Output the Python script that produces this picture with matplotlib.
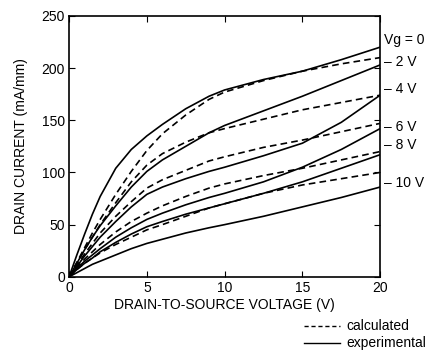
import matplotlib
matplotlib.use('Agg')
import matplotlib.pyplot as plt
import numpy as np

plt.rcParams['font.family'] = ['Liberation Sans', 'DejaVu Sans']

# drain-to-source voltage (V)
vds = [0, 0.5, 1, 1.5, 2, 3, 4, 5, 6, 7.5, 9, 10, 12.5, 15, 17.5, 20]

# experimental drain current (mA/mm), one list per gate voltage
exp_0 = [0, 21, 41, 60, 77, 104, 122, 135, 146, 161, 173, 179, 189, 197, 208, 220]
exp_m2 = [0, 13, 26, 38, 49, 68, 86, 101, 112, 125, 138, 145, 159, 173, 188, 203]
exp_m4 = [0, 10, 20, 29, 38, 53, 67, 79, 86, 94, 101, 105, 116, 128, 148, 174]
exp_m6 = [0, 8, 15, 21, 27, 38, 47, 55, 61, 69, 76, 80, 91, 105, 122, 142]
exp_m8 = [0, 7, 13, 18, 24, 33, 41, 48, 53, 60, 66, 70, 80, 91, 104, 117]
exp_m10 = [0, 4, 8, 12, 15, 21, 27, 32, 36, 42, 47, 50, 58, 67, 76, 86]

# calculated drain current (mA/mm)
calc_0 = [0, 14, 28, 42, 55, 79, 101, 121, 137, 155, 170, 177, 188, 197, 204, 210]
calc_m2 = [0, 13, 26, 38, 50, 71, 91, 107, 118, 129, 138, 142, 151, 160, 167, 174]
calc_m4 = [0, 11, 22, 32, 42, 58, 72, 85, 93, 102, 111, 115, 124, 131, 139, 147]
calc_m6 = [0, 9, 17, 24, 31, 43, 53, 61, 68, 77, 85, 89, 97, 104, 112, 120]
calc_m8 = [0, 7, 13, 18, 23, 31, 38, 45, 50, 58, 66, 70, 80, 88, 94, 100]

gate_labels = ['Vg = 0', '\u2013 2 V', '\u2013 4 V', '\u2013 6 V', '\u2013 8 V', '\u2013 10 V']
label_y = [227, 206, 180, 144, 126, 90]

fig = plt.figure(figsize=(4.4, 3.6), dpi=100)
ax = fig.add_axes([0.157, 0.231, 0.707, 0.725])

for c in [calc_0, calc_m2, calc_m4, calc_m6, calc_m8]:
    ax.plot(vds, c, color='black', lw=1.2, ls=(0, (4, 2.5)))
for e in [exp_0, exp_m2, exp_m4, exp_m6, exp_m8, exp_m10]:
    ax.plot(vds, e, color='black', lw=1.2)

ax.set_xlim(0, 20)
ax.set_ylim(0, 250)
ax.set_xticks([0, 5, 10, 15, 20])
ax.set_yticks([0, 50, 100, 150, 200, 250])
ax.tick_params(direction='in', top=True, right=True, labelsize=10, length=4, pad=3)
for s in ax.spines.values():
    s.set_linewidth(1.2)

ax.set_xlabel('DRAIN-TO-SOURCE VOLTAGE (V)', fontsize=10, labelpad=2)
ax.set_ylabel('DRAIN CURRENT (mA/mm)', fontsize=10, labelpad=10)

# gate voltage labels to the right of the plot
for t, y in zip(gate_labels, label_y):
    ax.text(20.25, y, t, fontsize=10, va='center', ha='left', clip_on=False)

# legend drawn below the plot on the right
fig.add_artist(plt.Line2D([304 / 440, 340 / 440], [1 - 326 / 360, 1 - 326 / 360],
                          color='black', lw=1, ls=(0, (3, 2))))
fig.add_artist(plt.Line2D([304 / 440, 340 / 440], [1 - 343 / 360, 1 - 343 / 360],
                          color='black', lw=1))
fig.text(346 / 440, 1 - 326 / 360, 'calculated', fontsize=10, va='center')
fig.text(346 / 440, 1 - 343 / 360, 'experimental', fontsize=10, va='center')

fig.savefig('out.png', dpi=100)
